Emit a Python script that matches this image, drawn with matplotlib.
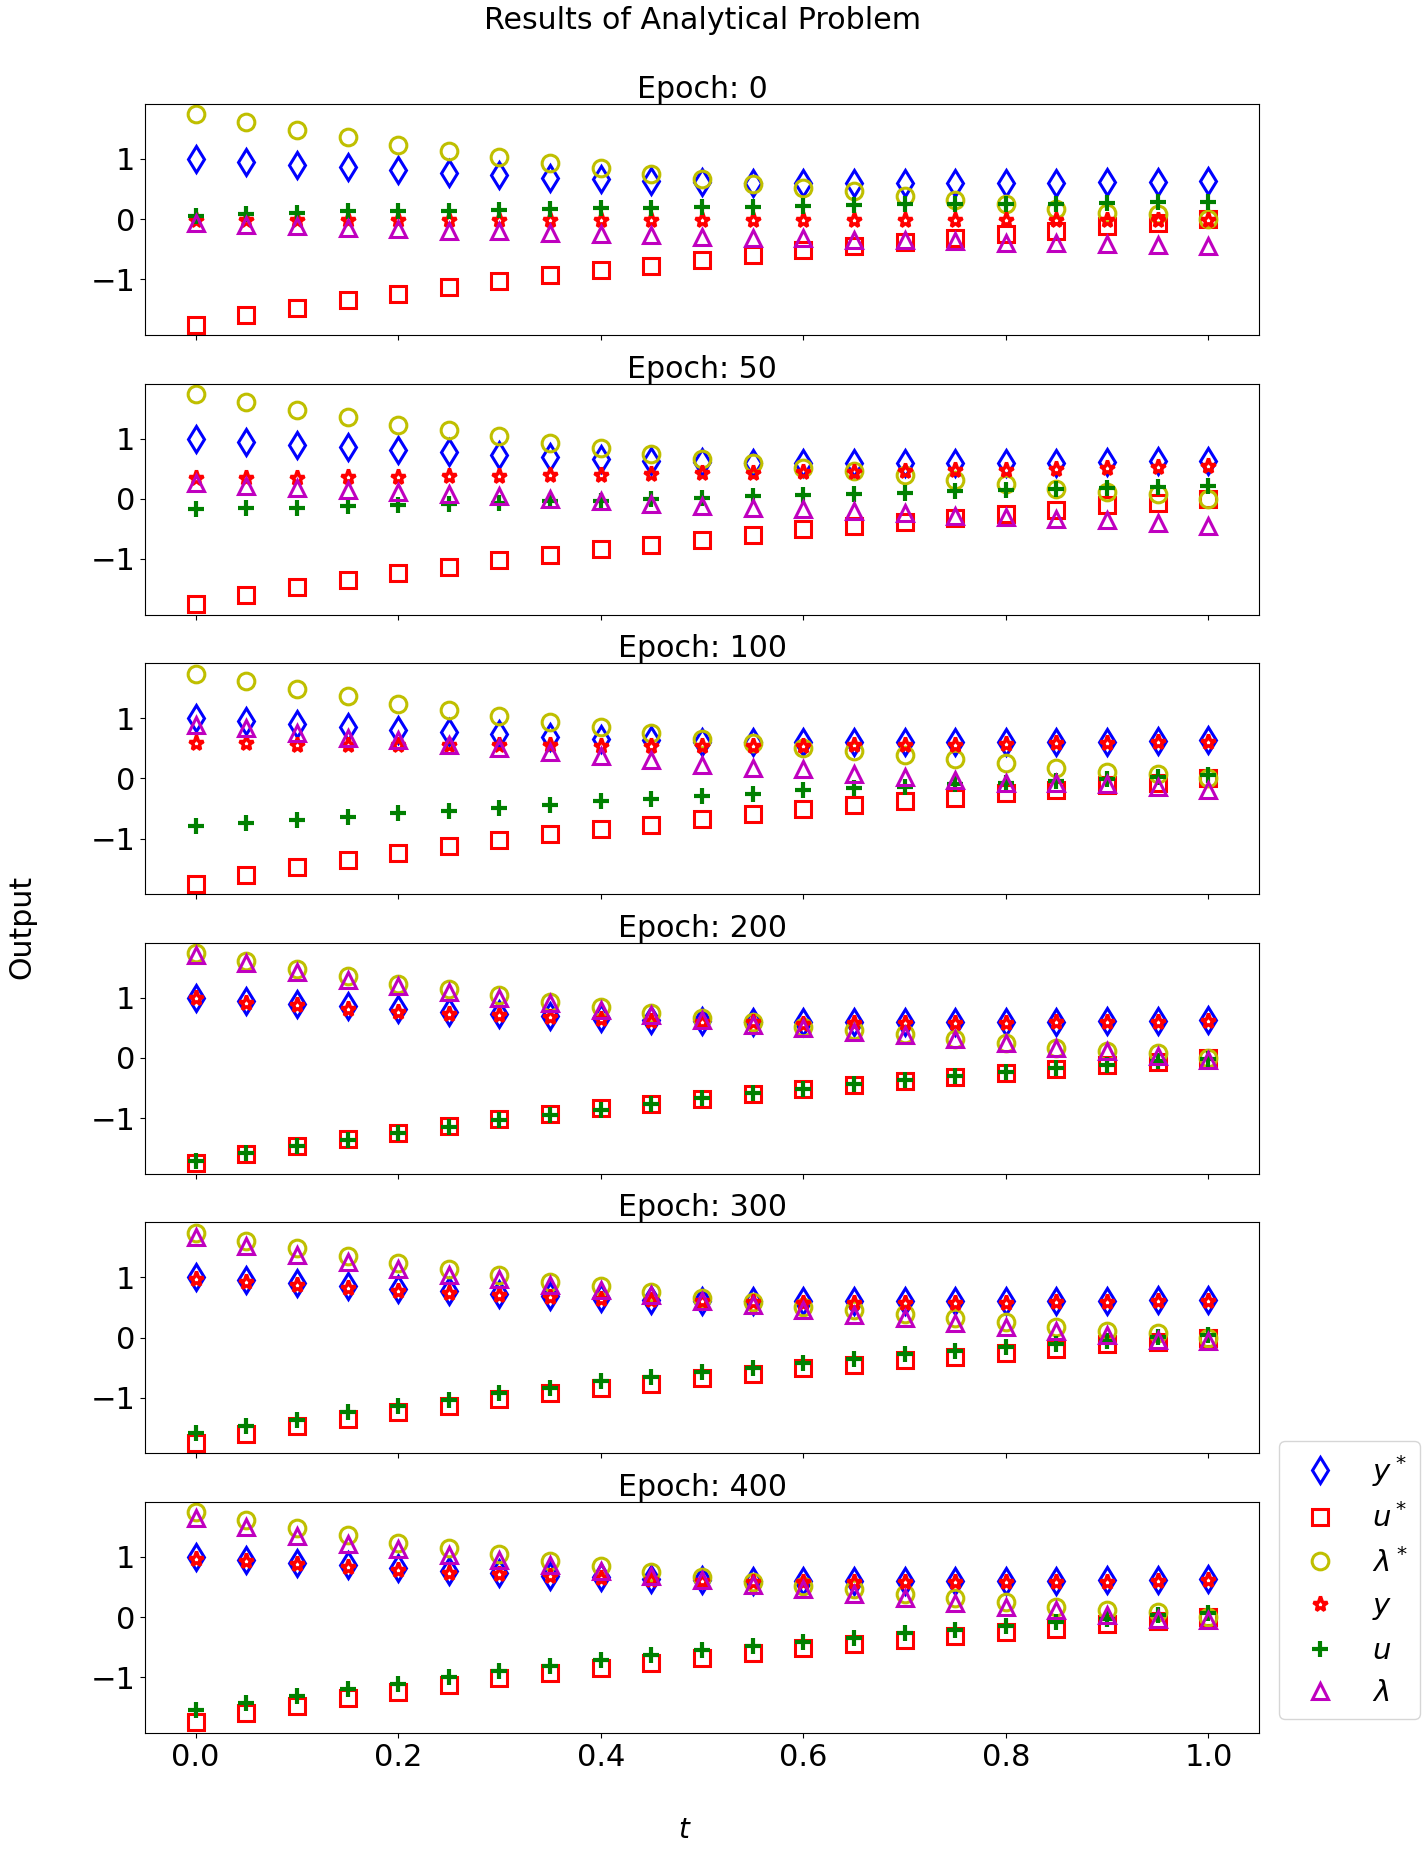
import numpy as np
import matplotlib
matplotlib.use('Agg')
import matplotlib.pyplot as plt

# time grid
t = np.linspace(0, 1, 21)

# analytical solution
y_star = [1.00, 0.95, 0.90, 0.86, 0.81, 0.77, 0.73, 0.69, 0.66, 0.63, 0.61,
          0.60, 0.60, 0.60, 0.60, 0.60, 0.60, 0.60, 0.61, 0.62, 0.63]
u_star = [-1.75, -1.60, -1.47, -1.35, -1.24, -1.13, -1.02, -0.93, -0.84, -0.77, -0.68,
          -0.60, -0.51, -0.45, -0.38, -0.32, -0.25, -0.19, -0.11, -0.07, 0.00]
lam_star = [1.74, 1.61, 1.48, 1.36, 1.23, 1.14, 1.04, 0.93, 0.85, 0.75, 0.66,
            0.59, 0.51, 0.46, 0.39, 0.32, 0.25, 0.17, 0.11, 0.08, 0.00]

epochs = [0, 50, 100, 200, 300, 400]

# network outputs per epoch
y_pred = [
    [-0.02] * 21,
    [0.34, 0.35, 0.35, 0.36, 0.36, 0.37, 0.38, 0.39, 0.40, 0.41, 0.42,
     0.43, 0.44, 0.45, 0.46, 0.47, 0.48, 0.50, 0.51, 0.53, 0.55],
    [0.59, 0.58, 0.56, 0.56, 0.56, 0.55, 0.55, 0.55, 0.54, 0.54, 0.54,
     0.54, 0.54, 0.55, 0.56, 0.56, 0.57, 0.58, 0.59, 0.60, 0.61],
    [0.99, 0.92, 0.88, 0.82, 0.77, 0.73, 0.71, 0.68, 0.64, 0.61, 0.59,
     0.59, 0.57, 0.58, 0.58, 0.58, 0.58, 0.59, 0.59, 0.60, 0.61],
    [0.97, 0.93, 0.87, 0.83, 0.78, 0.74, 0.71, 0.67, 0.64, 0.62, 0.60,
     0.59, 0.58, 0.58, 0.58, 0.58, 0.58, 0.59, 0.59, 0.60, 0.61],
    [0.97, 0.93, 0.88, 0.84, 0.79, 0.74, 0.71, 0.68, 0.65, 0.62, 0.60,
     0.58, 0.58, 0.58, 0.58, 0.58, 0.58, 0.59, 0.59, 0.60, 0.61],
]
u_pred = [
    [0.06, 0.09, 0.11, 0.13, 0.13, 0.14, 0.15, 0.17, 0.18, 0.18, 0.20,
     0.21, 0.22, 0.23, 0.25, 0.25, 0.25, 0.26, 0.27, 0.28, 0.28],
    [-0.17, -0.16, -0.15, -0.12, -0.10, -0.09, -0.07, -0.04, -0.03, -0.01, 0.02,
     0.04, 0.06, 0.08, 0.10, 0.13, 0.15, 0.17, 0.18, 0.19, 0.22],
    [-0.79, -0.75, -0.70, -0.64, -0.58, -0.54, -0.49, -0.45, -0.38, -0.34, -0.30,
     -0.26, -0.20, -0.16, -0.14, -0.09, -0.07, -0.04, -0.01, 0.03, 0.06],
    [-1.71, -1.58, -1.47, -1.36, -1.25, -1.14, -1.03, -0.95, -0.86, -0.76, -0.67,
     -0.59, -0.51, -0.43, -0.37, -0.30, -0.23, -0.16, -0.11, -0.05, -0.01],
    [-1.59, -1.47, -1.37, -1.24, -1.13, -1.03, -0.92, -0.84, -0.73, -0.65, -0.57,
     -0.50, -0.42, -0.35, -0.28, -0.22, -0.16, -0.11, -0.05, 0.01, 0.05],
    [-1.54, -1.43, -1.31, -1.20, -1.11, -1.00, -0.90, -0.81, -0.71, -0.63, -0.55,
     -0.48, -0.41, -0.34, -0.27, -0.21, -0.14, -0.08, -0.03, 0.03, 0.06],
]
lam_pred = [
    [-0.07, -0.10, -0.12, -0.14, -0.16, -0.19, -0.20, -0.23, -0.25, -0.27, -0.30,
     -0.31, -0.32, -0.35, -0.35, -0.37, -0.39, -0.40, -0.42, -0.43, -0.44],
    [0.26, 0.21, 0.18, 0.15, 0.11, 0.08, 0.04, 0.00, -0.04, -0.08, -0.12,
     -0.16, -0.17, -0.20, -0.24, -0.28, -0.31, -0.34, -0.36, -0.41, -0.45],
    [0.89, 0.83, 0.75, 0.67, 0.63, 0.56, 0.51, 0.43, 0.37, 0.30, 0.23,
     0.18, 0.15, 0.07, 0.02, -0.03, -0.07, -0.08, -0.10, -0.15, -0.20],
    [1.71, 1.57, 1.42, 1.30, 1.20, 1.10, 1.00, 0.92, 0.80, 0.71, 0.63,
     0.54, 0.49, 0.43, 0.38, 0.32, 0.24, 0.16, 0.11, 0.03, -0.04],
    [1.67, 1.52, 1.37, 1.25, 1.14, 1.04, 0.97, 0.88, 0.79, 0.70, 0.61,
     0.54, 0.46, 0.38, 0.32, 0.24, 0.17, 0.11, 0.04, -0.04, -0.05],
    [1.65, 1.49, 1.34, 1.22, 1.13, 1.03, 0.95, 0.86, 0.77, 0.68, 0.61,
     0.54, 0.46, 0.38, 0.31, 0.24, 0.17, 0.11, 0.04, -0.03, -0.05],
]

plt.rcParams['font.size'] = 18
plt.rcParams['xtick.labelsize'] = 22
plt.rcParams['ytick.labelsize'] = 22

fig, axes = plt.subplots(6, 1, sharex=True, figsize=(14.27, 18.53), dpi=100)
fig.subplots_adjust(left=0.1016, right=0.8823, top=0.9439, bottom=0.0648, hspace=0.21)

mk = dict(ls='none', markerfacecolor='none')
for i, ax in enumerate(axes):
    ax.plot(t, y_star, marker='d', color='b', ms=13, mew=2.2, label='$y^*$', **mk)
    ax.plot(t, u_star, marker='s', color='r', ms=12, mew=2.2, label='$u^*$', **mk)
    ax.plot(t, lam_star, marker='o', color='y', ms=12, mew=2.2, label=r'$\lambda^*$', **mk)
    ax.plot(t, y_pred[i], marker='*', color='r', ms=11, mew=2.5, label='$y$', **mk)
    ax.plot(t, u_pred[i], marker='+', color='g', ms=11, mew=3, label='$u$', **mk)
    ax.plot(t, lam_pred[i], marker='^', color='m', ms=12, mew=2.2, label=r'$\lambda$', **mk)
    ax.set_title('Epoch: %d' % epochs[i], pad=4)
    ax.set_yticks([-1, 0, 1])

handles, labels = axes[0].get_legend_handles_labels()
fig.legend(handles, labels, loc='lower right', bbox_to_anchor=(0.995, 0.0723),
           borderaxespad=0, fontsize=21)

fig.suptitle('Results of Analytical Problem', x=0.492, y=0.997, va='top')
fig.supxlabel('$t$', x=0.48, y=0.005, va='bottom', fontsize=20)
fig.supylabel('Output', x=0.005)

plt.savefig('out.png')
